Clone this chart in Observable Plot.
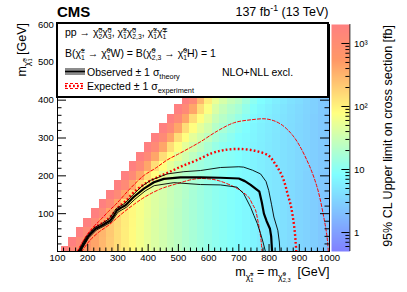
<!DOCTYPE html>
<html><head><meta charset="utf-8">
<script src="https://cdn.jsdelivr.net/npm/d3@7"></script>
<script src="https://cdn.jsdelivr.net/npm/@observablehq/plot@0.6"></script>
<style>
html,body{margin:0;padding:0;background:#fff;}
#wrap{position:relative;width:407px;height:292px;overflow:hidden;font-family:"Liberation Sans",Arial,Helvetica,sans-serif;color:#000;}
#wrap > svg{position:absolute;}
.t{position:absolute;white-space:nowrap;line-height:2;}
.ss{display:inline-flex;flex-direction:column;font-size:0.65em;line-height:1;vertical-align:0.55em;}
.sb{font-size:0.7em;vertical-align:-0.42em;}
.sp{font-size:0.7em;vertical-align:0.55em;}
.box{position:absolute;box-sizing:border-box;border:2px solid #000;background:#fff;}
</style></head><body><div id="wrap"></div>
<script>
// ---------- data ----------
const masses = [125,150,175,200,225,250,275,300,325,350,375,400,425,450,475,500,525,550,575,600,625,650,675,700,725,750,775,800,825,850,875,900,925,950,975,1000];
const lspValues = [0,25,50,75,100,125,150,175,200,225,250,275,300,325,350,375,400];
// 95% CL upper limits [fb], one list per chargino mass, from LSP = 0 upward
const limits = [
 [2500],
 [1400,2500],
 [900,1200,2500],
 [600,620,1200,2500],
 [420,430,450,1200,2500],
 [300,300,310,420,1200,2500],
 [210,210,215,220,420,1200,2500],
 [150,150,150,155,160,420,1200,2500],
 [110,110,110,112,115,150,420,1200,2500],
 [85,85,85,86,88,90,150,420,1200,2500],
 [65,65,65,66,67,68,80,150,420,1200,2500],
 [52,52,52,52,53,54,55,80,150,420,1200,2500],
 [42,42,42,42,43,43,44,50,80,150,420,1200,2500],
 [35,35,35,35,35,36,36,37,50,80,150,420,1200,2500],
 [29,29,29,29,29,30,30,30,35,50,80,150,420,1200,2500],
 [24,24,24,24,24,25,25,25,26,35,50,80,150,420,1200,2500],
 [20,20,20,20,20,20,21,21,21,25,35,50,80,150,420,1200,2500],
 [17,17,17,17,17,17,17,18,18,18,25,35,50,80,150,420,1200],
 [14.5,14.5,14.5,14.5,14.5,14.5,14.5,15,15,15,18,25,35,50,80,150,300],
 [12.5,12.5,12.5,12.5,12.5,12.5,12.5,12.5,13,13,13,18,25,35,50,75,110],
 [11,11,11,11,11,11,11,11,11.5,11.5,11.5,13,17,22,30,40,55],
 [10,10,10,10,10,10,10,10,10,10.5,10.5,10.5,13,17,22,28,38],
 [9,9,9,9,9,9,9,9,9,9.5,9.5,9.5,10.5,13,17,21,28],
 [8,8,8,8,8,8,8,8,8,8.5,8.5,8.5,8.5,10,13,17,22],
 [7.2,7.2,7.2,7.2,7.2,7.2,7.2,7.2,7.4,7.4,7.4,7.4,7.6,8.2,10,12,15],
 [6.5,6.5,6.5,6.5,6.5,6.5,6.5,6.5,6.6,6.6,6.6,6.6,6.8,7,7.6,9,10.5],
 [5.8,5.8,5.8,5.8,5.8,5.8,5.8,5.8,5.9,5.9,5.9,5.9,6,6.1,6.5,7.2,8.2],
 [5.2,5.2,5.2,5.2,5.2,5.2,5.2,5.2,5.3,5.3,5.3,5.3,5.4,5.5,5.7,6.2,6.9],
 [4.7,4.7,4.7,4.7,4.7,4.7,4.7,4.7,4.8,4.8,4.8,4.8,4.8,4.9,5,5.3,5.8],
 [4.2,4.2,4.2,4.2,4.2,4.2,4.2,4.2,4.3,4.3,4.3,4.3,4.3,4.4,4.5,4.7,5.1],
 [3.8,3.8,3.8,3.8,3.8,3.8,3.8,3.8,3.9,3.9,3.9,3.9,3.9,3.9,4,4.1,4.4],
 [3.4,3.4,3.4,3.4,3.4,3.4,3.4,3.4,3.5,3.5,3.5,3.5,3.5,3.5,3.6,3.7,3.9],
 [3.1,3.1,3.1,3.1,3.1,3.1,3.1,3.1,3.1,3.2,3.2,3.2,3.2,3.2,3.2,3.3,3.4],
 [2.8,2.8,2.8,2.8,2.8,2.8,2.8,2.8,2.8,2.9,2.9,2.9,2.9,2.9,2.9,3,3],
 [2.5,2.5,2.5,2.5,2.5,2.5,2.5,2.5,2.5,2.6,2.6,2.6,2.6,2.6,2.6,2.6,2.6],
 [2.3,2.3,2.3,2.3,2.3,2.3,2.3,2.3,2.3,2.4,2.4,2.4,2.4,2.4,2.4,2.4,2.4]
];
// exclusion contours [m(chargino), m(LSP)]
const observed = [[172,0],[187,20],[200,38],[213,50],[226,60],[248,69],[262,76],[275,82],[288,97],[297,109],[311,116],[325,122],[352,144],[386,166],[419,183],[452,192],[507,196],[573,196],[639,195],[700,193],[720,186],[739,176],[768,158],[776,130],[783,100],[792,80],[803,60],[807,40],[810,0]];
const observedUp = [[168,0],[196,40],[222,63],[245,73],[272,87],[294,113],[322,127],[350,150],[380,173],[408,188],[463,205],[518,211],[573,214],[639,222],[700,224],[716,223],[745,215],[772,205],[790,185],[799,161],[808,125],[816,91],[829,56],[834,25],[836,0]];
const observedDown = [[176,0],[203,36],[229,57],[251,66],[278,78],[300,104],[328,117],[356,138],[390,160],[420,174],[485,182],[573,177],[639,176],[694,170],[716,153],[739,117],[750,95],[761,74],[772,47],[780,25],[788,0]];
const expected = [[170,0],[198,40],[224,64],[250,76],[275,92],[300,116],[325,133],[352,156],[391,180],[435,198],[470,210],[510,225],[557,240],[612,260],[650,268],[700,271],[755,266],[799,253],[820,232],[840,205],[852,180],[862,150],[871,125],[878,95],[884,60],[888,25],[890,0]];
const expectedUp = [[165,0],[190,35],[215,62],[240,82],[270,107],[297,128],[340,166],[386,201],[424,220],[463,242],[501,258],[540,275],[573,290],[628,318],[683,340],[739,348],[794,350],[838,337],[882,303],[926,240],[959,170],[981,91],[992,38],[996,0]];
const expectedDown = [[180,0],[208,30],[238,52],[270,70],[310,98],[352,124],[391,145],[440,165],[490,178],[557,192],[600,192],[634,187],[689,169],[716,155],[733,143],[745,125],[755,110],[762,85],[768,60],[773,33],[777,0]];
// axes
const xLabels = [100,200,300,400,500,600,700,800,900,1000];
const yLabels = [100,200,300,400,500,600];
const zLabels = [1,10,100,1000];
const zLabelText = ["1","10","10\u00b2","10\u00b3"];
// colour palette (upper limit in fb -> colour)
const paletteStops = [0.5, 8.39, 78.7, 531, 2000];
const paletteColors = ["#8080ff","#80ffff","#ffff80","#ff9966","#ff8080"];

// ---------- build ----------
const binWidth = 25;
const cells = masses.flatMap((m, i) => limits[i].map((v, j) => ({m, l: lspValues[j], v})));
const color = {type: "log", domain: paletteStops, range: paletteColors, interpolate: "rgb", clamp: true};
const W = 407, H = 292, mL = 57, mR = 78, mT = 24, mB = 41;
const fw = W - mL - mR, fh = H - mT - mB;
const xMinor = d3.range(100, 1001, 20).filter(d => d % 100);
const yMinor = d3.range(0, 601, 20).filter(d => d % 100);
const P = d => d[0], Q = d => d[1];
const dotted = "1.8,2.2";

const main = Plot.plot({
  width: W, height: H, marginLeft: mL, marginRight: mR, marginTop: mT, marginBottom: mB,
  x: {domain: [100, 1000]},
  y: {domain: [0, 600]},
  color,
  style: {fontFamily: '"Liberation Sans", Arial, Helvetica, sans-serif', fontSize: "9.5px", color: "#000", background: "transparent"},
  marks: [
    Plot.rect(cells, {x1: d => d.m - binWidth/2, x2: d => d.m + binWidth/2, y1: d => Math.max(0, d.l - binWidth/2), y2: d => d.l + binWidth/2, fill: "v", inset: 0, clip: true, shapeRendering: "crispEdges"}),
    Plot.line(expectedUp, {x: P, y: Q, stroke: "red", strokeWidth: 1, strokeDasharray: "3,2", curve: "catmull-rom", clip: true}),
    Plot.line(expectedDown, {x: P, y: Q, stroke: "red", strokeWidth: 1, strokeDasharray: "3,2", curve: "catmull-rom", clip: true}),
    Plot.line(expected, {x: P, y: Q, stroke: "red", strokeWidth: 2.4, strokeDasharray: dotted, strokeLinecap: "butt", curve: "catmull-rom", clip: true}),
    Plot.line(observedUp, {x: P, y: Q, stroke: "#000", strokeWidth: 0.9, clip: true}),
    Plot.line(observedDown, {x: P, y: Q, stroke: "#000", strokeWidth: 0.9, clip: true}),
    Plot.line(observed, {x: P, y: Q, stroke: "#000", strokeWidth: 2.2, clip: true}),
    Plot.frame({stroke: "#000", strokeWidth: 1}),
    Plot.ruleX(xMinor, {x: d => d, insetTop: fh - 3.5, stroke: "#000"}),
    Plot.ruleX(xLabels, {x: d => d, insetTop: fh - 7, stroke: "#000"}),
    Plot.ruleY(yMinor, {y: d => d, insetRight: fw - 4.5, stroke: "#000"}),
    Plot.ruleY(yLabels, {y: d => d, insetRight: fw - 9, stroke: "#000"}),
    Plot.ruleY(yMinor, {y: d => d, insetLeft: fw - 4.5, stroke: "#000"}),
    Plot.ruleY(yLabels, {y: d => d, insetLeft: fw - 9, stroke: "#000"}),
    Plot.axisX({ticks: xLabels, tickSize: 0, tickPadding: 2.5, tickFormat: d => String(d), label: null}),
    Plot.axisY({ticks: yLabels, tickSize: 0, tickPadding: 3.7, tickFormat: d => String(d), label: null})
  ]
});

const zMin = Math.log10(paletteStops[0]), zMax = Math.log10(paletteStops[paletteStops.length - 1]);
const zMinor = [0.6,0.7,0.8,0.9,2,3,4,5,6,7,8,9,20,30,40,50,60,70,80,90,200,300,400,500,600,700,800,900];
const barW = 18.4;
const cb = Plot.plot({
  width: 76, height: H, marginLeft: 0, marginRight: 76 - barW, marginTop: mT, marginBottom: mB,
  x: {domain: [0, 1], axis: null},
  y: {domain: [zMin, zMax]},
  color,
  style: {fontFamily: '"Liberation Sans", Arial, Helvetica, sans-serif', fontSize: "9.5px", color: "#000", background: "transparent"},
  marks: [
    Plot.raster({x1: 0, x2: 1, y1: zMin, y2: zMax, fill: (x, y) => 10 ** y, pixelSize: 1}),
    Plot.ruleY(zMinor, {y: d => Math.log10(d), insetLeft: barW - 4, stroke: "#000"}),
    Plot.ruleY(zLabels, {y: d => Math.log10(d), insetLeft: barW - 8, stroke: "#000"}),
    Plot.ruleX([1], {stroke: "#000", strokeWidth: 0.8}),
    Plot.axisY({anchor: "right", ticks: zLabels.map(Math.log10), tickSize: 0, tickPadding: 4, tickFormat: d => zLabelText[Math.round(d)], label: null})
  ]
});

const wrap = document.getElementById("wrap");
main.style.left = "0px"; main.style.top = "0px";
cb.style.left = "331px"; cb.style.top = "0px";
wrap.appendChild(main);
wrap.appendChild(cb);

// ---------- texts ----------
const chi = (sup, sub) => `\u03c7\u0303<span class="ss"><span>${sup}</span><span>${sub}</span></span>`;
function place(html, x, baseline, fs, align = "left", weight = "normal") {
  const d = document.createElement("div");
  d.className = "t"; d.innerHTML = html;
  d.style.fontSize = fs + "px"; d.style.fontWeight = weight;
  d.style.top = (baseline - 1.3465 * fs) + "px";
  if (align === "right") d.style.right = (W - x) + "px"; else d.style.left = x + "px";
  wrap.appendChild(d); return d;
}
function placeRot(html, baselineX, endY, fs, len) {
  const d = document.createElement("div");
  d.className = "t"; d.innerHTML = html;
  d.style.fontSize = fs + "px"; d.style.width = len + "px"; d.style.textAlign = "right";
  d.style.left = (baselineX - 1.3465 * fs) + "px";
  d.style.top = (endY + len) + "px";
  d.style.transformOrigin = "0 0"; d.style.transform = "rotate(-90deg)";
  wrap.appendChild(d); return d;
}

place("CMS", 57, 17.5, 15, "left", "bold");
place('137 fb<span class="sp">-1</span> (13 TeV)', 328.5, 17.3, 12.5, "right");
place(`m<span class="sb">${chi("\u00b1","1")}</span> = m<span class="sb">${chi("0","2,3")}</span>&nbsp;&nbsp;[GeV]`, 329.5, 276.7, 12.5, "right");
placeRot(`m<span class="sb">${chi("0","1")}</span> [GeV]`, 27, 23, 12.5, 120);
placeRot("95% CL Upper limit on cross section [fb]", 392.5, 25, 12.5, 240);

// legend box
const box = document.createElement("div");
box.className = "box";
Object.assign(box.style, {left: "56px", top: "22px", width: "273px", height: "76px"});
wrap.appendChild(box);
const fsL = 10.5;
place(`pp \u2192 ${chi("0","2")}${chi("0","3")}, ${chi("\u00b1","1")}${chi("0","2,3")}, ${chi("\u00b1","1")}${chi("\u2213","1")}`, 65, 36.5, fsL);
place(`B(${chi("\u00b1","1")} \u2192 ${chi("0","1")}W) = B(${chi("0","2,3")} \u2192 ${chi("0","1")}H) = 1`, 65, 57, fsL);
place(`Observed \u00b1 1 \u03c3<span class="sb">theory</span>`, 87, 76, fsL);
place("NLO+NLL excl.", 222, 76, fsL);
place(`Expected \u00b1 1 \u03c3<span class="sb">experiment</span>`, 87, 90.5, fsL);

const ns = "http://www.w3.org/2000/svg";
const sample = document.createElementNS(ns, "svg");
sample.setAttribute("width", "24"); sample.setAttribute("height", "26");
sample.style.left = "63px"; sample.style.top = "66px"; sample.style.position = "absolute";
const sampleLines = [
  {y: 3, c: "#000", w: 0.9, d: null},
  {y: 5.5, c: "#000", w: 2.2, d: null},
  {y: 8, c: "#000", w: 0.9, d: null},
  {y: 17.5, c: "red", w: 1, d: "3,2"},
  {y: 20, c: "red", w: 2.4, d: dotted},
  {y: 22.5, c: "red", w: 1, d: "3,2"}
];
for (const s of sampleLines) {
  const ln = document.createElementNS(ns, "line");
  ln.setAttribute("x1", "2"); ln.setAttribute("x2", "22");
  ln.setAttribute("y1", s.y); ln.setAttribute("y2", s.y);
  ln.setAttribute("stroke", s.c); ln.setAttribute("stroke-width", s.w);
  if (s.d) ln.setAttribute("stroke-dasharray", s.d);
  sample.appendChild(ln);
}
wrap.appendChild(sample);
</script></body></html>
